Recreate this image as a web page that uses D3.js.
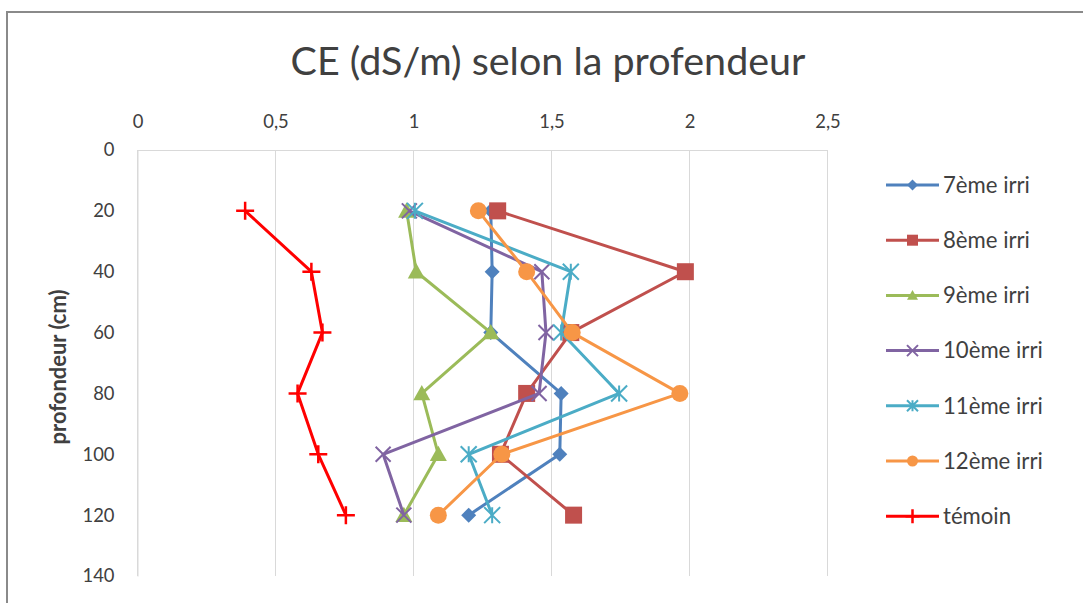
<!DOCTYPE html>
<html><head><meta charset="utf-8">
<script src="https://cdn.jsdelivr.net/npm/d3@7"></script>
<style>
html,body{margin:0;padding:0;background:#fff;}
svg{display:block;}
text{font-family:Lato,"Open Sans",sans-serif;fill:#404040;}
</style></head><body>
<svg id="c" width="1083" height="603"></svg>
<script>
const depths = [20, 40, 60, 80, 100, 120];
const seriesNames = ["7ème irri","8ème irri","9ème irri","10ème irri","11ème irri","12ème irri","témoin"];
const s7  = [1.28, 1.285, 1.28, 1.535, 1.53, 1.20];
const s8  = [1.305, 1.985, 1.57, 1.41, 1.315, 1.58];
const s9  = [0.975, 1.01, 1.28, 1.03, 1.09, 0.965];
const s10 = [0.985, 1.465, 1.48, 1.455, 0.89, 0.965];
const s11 = [1.005, 1.57, 1.535, 1.745, 1.20, 1.285];
const s12 = [1.235, 1.41, 1.575, 1.965, 1.32, 1.09];
const temoin = [0.39, 0.63, 0.67, 0.58, 0.655, 0.755];
const xTicks = [0, 0.5, 1, 1.5, 2, 2.5];
const yTicks = [0, 20, 40, 60, 80, 100, 120, 140];
const title = "CE (dS/m) selon la profendeur";
const yTitle = "profondeur (cm)";

const colors = ["#4F81BD","#C0504D","#9BBB59","#8064A2","#4BACC6","#F79646","#FF0000"];
const markers = ["diamond","square","triangle","x","star","circle","plus"];
const values = [s7,s8,s9,s10,s11,s12,temoin];

const svg = d3.select("#c");
// helper: font size that makes a string a given width
function fitSize(str, targetW, weight) {
  const t = svg.append("text").attr("font-size",20).attr("font-weight",weight||"normal").text(str);
  const w = t.node().getComputedTextLength();
  t.remove();
  return 20*targetW/w;
}
const tickFs = fitSize("100", 32);
const legFs = fitSize("7ème irri", 87);

// outer border
svg.append("rect").attr("x",7).attr("y",12).attr("width",1100).attr("height",620)
  .attr("fill","none").attr("stroke","#8a8a8a").attr("stroke-width",2);

const L=137.5, R=827.5, T=150, B=576;
const x = d3.scaleLinear().domain([0,2.5]).range([L,R]);
const y = d3.scaleLinear().domain([0,140]).range([T,B]);

// gridlines
svg.append("g").selectAll("line").data(xTicks).join("line")
  .attr("x1",d=>x(d)).attr("x2",d=>x(d)).attr("y1",T).attr("y2",B)
  .attr("stroke","#D9D9D9").attr("stroke-width",1);

// x axis (top)
const xa = svg.append("g").attr("transform",`translate(0,${T})`)
  .call(d3.axisTop(x).tickValues(xTicks).tickSize(0).tickPadding(22)
    .tickFormat(d=>String(d).replace(".",",")));
xa.select(".domain").attr("stroke","#D9D9D9");
xa.selectAll("text").attr("font-size",tickFs).attr("fill","#404040").style("font-family","Lato,'Open Sans',sans-serif");

// y axis (left)
const ya = svg.append("g").attr("transform",`translate(${L},0)`)
  .call(d3.axisLeft(y).tickValues(yTicks).tickSize(0).tickPadding(23));
ya.select(".domain").attr("stroke","#D9D9D9");
ya.selectAll("text").attr("font-size",tickFs).attr("fill","#404040").style("font-family","Lato,'Open Sans',sans-serif");

// titles
const tt = svg.append("text").attr("x",548).attr("y",75).attr("text-anchor","middle")
  .attr("font-size",32).attr("fill","#262626").text(title);
const tw = tt.node().getComputedTextLength();
tt.attr("font-size", 32*515/tw);

const yt = svg.append("text").attr("transform","translate(66,367) rotate(-90)")
  .attr("text-anchor","middle").attr("font-size",17).attr("font-weight","bold").attr("fill","#404040").text(yTitle);
const yw = yt.node().getComputedTextLength();
yt.attr("font-size", 17*155/yw);

function drawMarker(g, type, cx, cy, color, s) {
  const h = s/2;
  if (type==="diamond") {
    g.append("path").attr("d",`M${cx},${cy-h}L${cx+h},${cy}L${cx},${cy+h}L${cx-h},${cy}Z`).attr("fill",color);
  } else if (type==="square") {
    g.append("rect").attr("x",cx-h).attr("y",cy-h).attr("width",s).attr("height",s).attr("fill",color);
  } else if (type==="triangle") {
    g.append("path").attr("d",`M${cx},${cy-h}L${cx+h},${cy+h*0.8}L${cx-h},${cy+h*0.8}Z`).attr("fill",color);
  } else if (type==="circle") {
    g.append("circle").attr("cx",cx).attr("cy",cy).attr("r",h).attr("fill",color);
  } else if (type==="x") {
    g.append("path").attr("d",`M${cx-h},${cy-h}L${cx+h},${cy+h}M${cx-h},${cy+h}L${cx+h},${cy-h}`)
      .attr("stroke",color).attr("stroke-width",2);
  } else if (type==="star") {
    g.append("path").attr("d",`M${cx-h},${cy-h}L${cx+h},${cy+h}M${cx-h},${cy+h}L${cx+h},${cy-h}M${cx},${cy-h}L${cx},${cy+h}`)
      .attr("stroke",color).attr("stroke-width",2);
  } else if (type==="plus") {
    g.append("path").attr("d",`M${cx-h},${cy}L${cx+h},${cy}M${cx},${cy-h}L${cx},${cy+h}`)
      .attr("stroke",color).attr("stroke-width",2.5);
  }
}

const sizes = {diamond:15, square:17, triangle:17, x:15, star:16, circle:17, plus:18};
const line = d3.line().x(d=>x(d[0])).y(d=>y(d[1]));

values.forEach((vals,i)=>{
  const g = svg.append("g");
  const pts = vals.map((v,j)=>[v,depths[j]]);
  g.append("path").attr("d",line(pts)).attr("fill","none")
    .attr("stroke",colors[i]).attr("stroke-width",3).attr("stroke-linejoin","round");
  pts.forEach(p=>drawMarker(g, markers[i], x(p[0]), y(p[1]), colors[i], sizes[markers[i]]));
});

// legend
const legY0 = 185, legStep = 55.2;
seriesNames.forEach((name,i)=>{
  const g = svg.append("g");
  const yy = legY0 + i*legStep;
  g.append("line").attr("x1",886).attr("x2",939).attr("y1",yy).attr("y2",yy)
    .attr("stroke",colors[i]).attr("stroke-width",3);
  drawMarker(g, markers[i], 912.5, yy, colors[i], markers[i]==="plus"?14:11);
  g.append("text").attr("x",943).attr("y",yy).attr("dy","0.35em")
    .attr("font-size",legFs).attr("fill","#404040").text(name);
});
</script>
</body></html>
